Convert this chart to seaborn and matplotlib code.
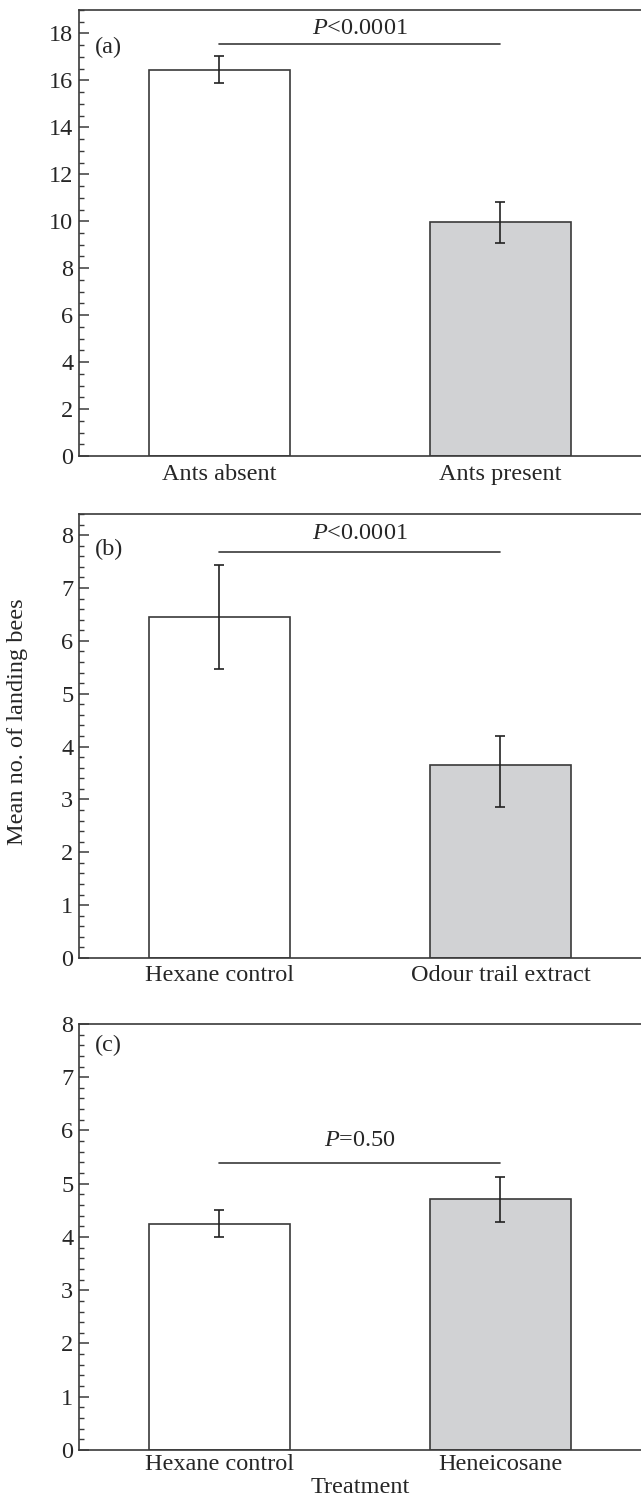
import matplotlib
matplotlib.use("Agg")
import matplotlib.pyplot as plt
import seaborn as sns
from matplotlib.ticker import MultipleLocator

# ---- data ----
# panel (a)
cats_a = ["Ants absent", "Ants present"]
mean_a = [16.45, 9.95]
low_a = [15.88, 9.08]
high_a = [17.03, 10.82]

# panel (b)
cats_b = ["Hexane control", "Odour trail extract"]
mean_b = [6.45, 3.65]
low_b = [5.46, 2.86]
high_b = [7.44, 4.20]

# panel (c)
cats_c = ["Hexane control", "Heneicosane"]
mean_c = [4.25, 4.72]
low_c = [4.00, 4.28]
high_c = [4.50, 5.12]

p_text = ["<0.0001", "<0.0001", "=0.50"]

# ---- style ----
sns.set_theme(style="ticks")
plt.rcParams["font.family"] = ["Liberation Serif", "DejaVu Serif"]
plt.rcParams["mathtext.fontset"] = "custom"
plt.rcParams["mathtext.it"] = "Liberation Serif:italic"
plt.rcParams["mathtext.rm"] = "Liberation Serif"

edge = "#3a3a3a"
fills = ["white", "#d1d2d4"]
fs = 17.5

fig = plt.figure(figsize=(6.41, 14.95), dpi=100)

panels = [
    # cats, mean, low, high, axes rect, ylim, major, minor, sig line y, p text y, label, label y, xpad
    (cats_a, mean_a, low_a, high_a, [0.123, 0.695, 0.877, 0.2983], 19, 2, 0.5, 17.57, 18.2, "(a)", 0.915, 6),
    (cats_b, mean_b, low_b, high_b, [0.123, 0.3592, 0.877, 0.297], 8.4, 1, 0.2, 7.68, 8.03, "(b)", 0.919, 5),
    (cats_c, mean_c, low_c, high_c, [0.123, 0.0301, 0.877, 0.285], 8, 1, 0.2, 5.39, 5.82, "(c)", 0.95, 3),
]

axes = []
for i, (cats, means, lows, highs, rect, ytop, major, minor, sig_y, txt_y, lab, lab_y, xpad) in enumerate(panels):
    ax = fig.add_axes(rect)
    sns.barplot(
        x=cats,
        y=means,
        hue=cats,
        palette=fills,
        legend=False,
        width=0.5,
        errorbar=None,
        edgecolor=edge,
        linewidth=1.2,
        ax=ax,
    )
    # error bars
    yerr = [[m - l for m, l in zip(means, lows)], [h - m for m, h in zip(means, highs)]]
    ax.errorbar(
        [0, 1], means, yerr=yerr, fmt="none",
        ecolor="#222222", elinewidth=1.2, capsize=3.5, capthick=1.2,
    )
    # significance bar
    ax.plot([0, 1], [sig_y, sig_y], color=edge, linewidth=1.2)
    ax.text(0.5, txt_y, r"$P$" + p_text[i], ha="center", va="center", fontsize=fs)
    ax.text(0.028, lab_y, lab, transform=ax.transAxes, ha="left", va="center", fontsize=fs)

    ax.set_xlim(-0.5, 1.5)
    ax.set_ylim(0, ytop)
    ax.yaxis.set_major_locator(MultipleLocator(major))
    ax.yaxis.set_minor_locator(MultipleLocator(minor))

    for s in ["left", "bottom", "top"]:
        ax.spines[s].set_color(edge)
        ax.spines[s].set_linewidth(1.2)
    ax.spines["right"].set_visible(False)

    ax.tick_params(axis="y", which="major", direction="in", length=7, width=1.1,
                   color=edge, labelsize=fs, pad=4, right=False)
    ax.tick_params(axis="y", which="minor", direction="in", length=3.5, width=1.0,
                   color=edge, right=False)
    ax.tick_params(axis="x", which="major", direction="in", length=6, width=1.1,
                   color=edge, labelsize=fs, pad=xpad, top=False)
    ax.set_xlabel("")
    ax.set_ylabel("")
    axes.append(ax)

# axis titles placed on the figure
fig.text(0.5616, 0.0052, "Treatment", ha="center", va="center", fontsize=fs)
fig.text(0.028, 0.517, "Mean no. of landing bees", rotation=90,
         ha="center", va="center", fontsize=fs)

fig.savefig("out.png", dpi=100)
